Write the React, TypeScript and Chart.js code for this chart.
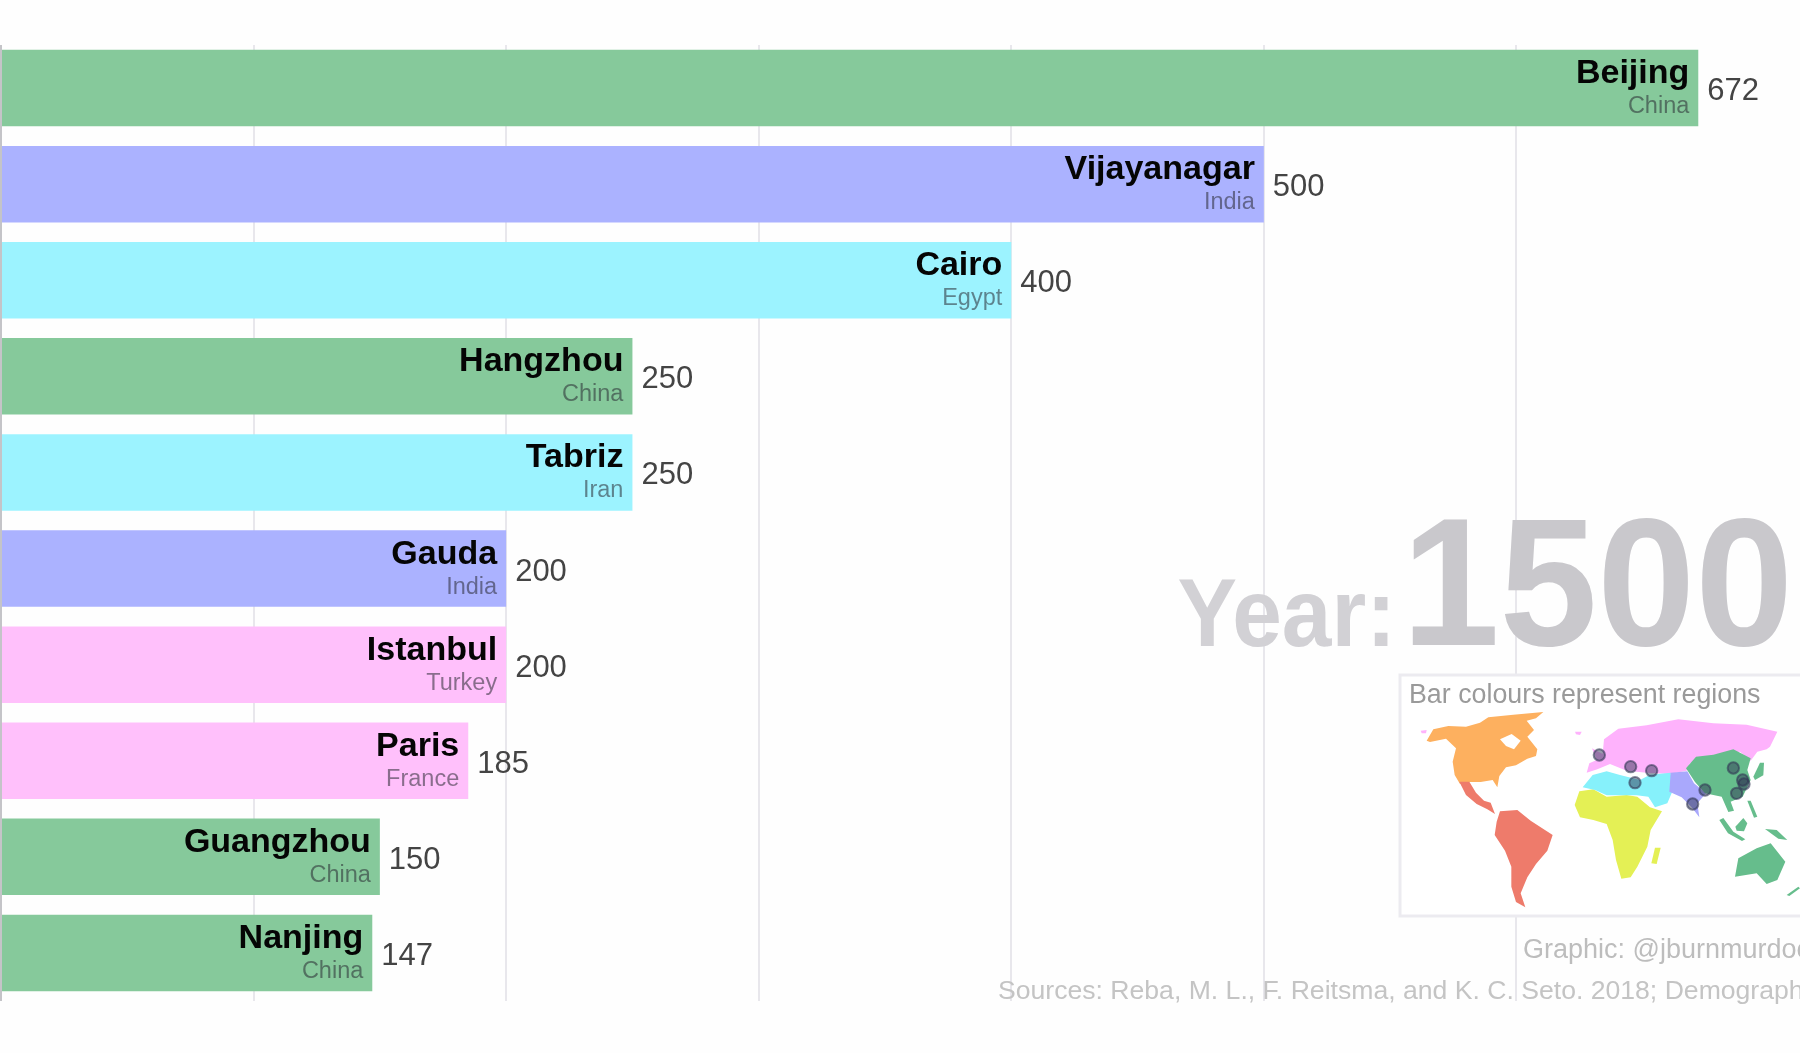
import React, { useEffect, useRef } from "react";
import { Chart, registerables } from "chart.js";

Chart.register(...registerables);

const cities = ["Beijing", "Vijayanagar", "Cairo", "Hangzhou", "Tabriz", "Gauda", "Istanbul", "Paris", "Guangzhou", "Nanjing"];
const countries = ["China", "India", "Egypt", "China", "Iran", "India", "Turkey", "France", "China", "China"];
const populations = [672, 500, 400, 250, 250, 200, 200, 185, 150, 147];
const regions = ["eastAsia", "southAsia", "middleEast", "eastAsia", "middleEast", "southAsia", "europe", "europe", "eastAsia", "eastAsia"];
const year = "1500";
const sources = "Sources: Reba, M. L., F. Reitsma, and K. C. Seto. 2018; Demographia";
const credit = "Graphic: @jburnmurdoch";
const legendTitle = "Bar colours represent regions";

const regionColours: Record<string, string> = {
  eastAsia: "#86c99b",
  southAsia: "#abb2ff",
  middleEast: "#9cf3ff",
  europe: "#ffc0fb",
};

// Inset world map: decorative outlines, in a 3x local space of the panel.
const mapShapes: [string, string][] = [
  ["#fdb05f", "M140,182 L160,148 L205,138 L258,140 L300,128 L325,112 L400,104 L490,96 L468,115 L440,122 L462,150 L442,170 L472,208 L468,228 L442,236 L408,256 L378,262 L358,288 L352,322 L338,300 L302,306 L268,306 L240,312 L224,285 L218,245 L228,205 L198,176 L150,186 Z"],
  ["#ffffff", "M360,178 L395,162 L422,182 L402,208 L378,198 Z"],
  ["#ee7b6b", "M238,305 L268,305 L288,338 L312,362 L332,368 L345,402 L322,388 L290,372 L258,345 Z"],
  ["#ee7b6b", "M360,394 L412,390 L452,422 L518,465 L502,512 L468,552 L442,592 L422,640 L436,682 L408,666 L394,620 L394,560 L375,512 L344,465 L350,425 Z"],
  ["#feb2fc", "M620,278 L628,250 L650,240 L636,205 L668,222 L672,178 L715,146 L800,136 L895,118 L1000,130 L1100,134 L1192,155 L1170,200 L1160,208 L1132,215 L1112,242 L1080,215 L1000,225 L930,250 L920,272 L870,282 L800,278 L740,272 L690,252 L652,268 Z"],
  ["#e4f055", "M598,334 L640,328 L680,350 L740,345 L772,350 L810,382 L846,394 L812,450 L802,500 L772,560 L752,592 L724,596 L708,540 L698,480 L680,432 L640,420 L600,412 L584,375 Z"],
  ["#e4f055", "M825,503 L842,503 L830,552 L814,550 Z"],
  ["#86f1fb", "M608,322 L638,285 L680,274 L720,285 L780,300 L810,284 L872,278 L878,332 L862,370 L825,382 L805,350 L770,346 L740,346 L680,346 L645,330 Z"],
  ["#a9a8fc", "M872,278 L922,274 L942,310 L978,340 L952,370 L958,412 L935,382 L905,352 L868,335 Z"],
  ["#66bd8c", "M918,265 L948,230 L1000,224 L1060,208 L1112,235 L1102,270 L1112,300 L1088,350 L1052,365 L1062,392 L1045,396 L1025,350 L975,340 L945,306 Z"],
  ["#66bd8c", "M1065,590 L1075,535 L1130,505 L1172,490 L1216,545 L1192,600 L1160,612 L1130,580 Z"],
  ["#66bd8c", "M1018,420 L1030,414 L1060,455 L1096,478 L1086,483 L1044,460 Z"],
  ["#66bd8c", "M1066,440 L1090,414 L1102,430 L1092,454 L1070,452 Z"],
  ["#66bd8c", "M1155,447 L1190,450 L1222,480 L1195,476 Z"],
  ["#66bd8c", "M1102,362 L1112,362 L1132,410 L1122,413 Z"],
  ["#66bd8c", "M1140,248 L1152,248 L1150,286 L1125,300 L1120,290 Z"],
  ["#66bd8c", "M1220,645 L1255,620 L1260,625 L1228,648 Z"],
  ["#feb2fc", "M585,155 L605,155 L600,165 L588,163 Z"],
  ["#feb2fc", "M122,152 L140,150 L138,160 L125,160 Z"],
];
const mapDots: [number, number][] = [
  [658, 225], [752, 260], [815, 272], [765, 308], [938, 372],
  [975, 330], [1060, 264], [1088, 300], [1092, 312], [1070, 340],
];

const LABEL = '"Liberation Sans", Arial, sans-serif';

const gridTopMask = {
  id: "gridTopMask",
  beforeDatasetsDraw(chart: any) {
    const { ctx } = chart;
    ctx.save();
    ctx.fillStyle = "#fefefe";
    ctx.fillRect(0, 0, 1800, 45);
    ctx.restore();
  },
};

const overlay = {
  id: "overlay",
  afterDatasetsDraw(chart: any) {
    const { ctx } = chart;
    const bars = chart.getDatasetMeta(0).data;
    ctx.save();
    ctx.textBaseline = "alphabetic";
    bars.forEach((bar: any, i: number) => {
      ctx.textAlign = "right";
      ctx.fillStyle = "#050505";
      ctx.font = `bold 34px ${LABEL}`;
      ctx.fillText(cities[i], bar.x - 9, bar.y - 5);
      ctx.fillStyle = "rgba(40,40,50,0.55)";
      ctx.font = `23.5px ${LABEL}`;
      ctx.fillText(countries[i], bar.x - 9, bar.y + 25);
      ctx.textAlign = "left";
      ctx.fillStyle = "#444444";
      ctx.font = `31px ${LABEL}`;
      ctx.fillText(String(populations[i]), bar.x + 9, bar.y + 12);
    });

    // Year read-out
    ctx.fillStyle = "#c9c8cc";
    ctx.save();
    ctx.translate(1793, 645);
    ctx.scale(0.956, 0.985);
    ctx.textAlign = "right";
    ctx.font = `bold 184px ${LABEL}`;
    ctx.fillText(year, 0, 0);
    ctx.restore();
    ctx.fillStyle = "#d2d1d5";
    ctx.save();
    ctx.translate(1396, 646);
    ctx.scale(0.93, 1);
    ctx.textAlign = "right";
    ctx.font = `bold 96px ${LABEL}`;
    ctx.fillText("Year:", 0, 0);
    ctx.restore();

    // Legend panel
    ctx.fillStyle = "#ffffff";
    ctx.fillRect(1400, 675, 420, 241);
    ctx.strokeStyle = "#ecebf0";
    ctx.lineWidth = 3;
    ctx.strokeRect(1400, 675, 420, 241);
    ctx.textAlign = "left";
    ctx.fillStyle = "#9a9a9a";
    ctx.font = `26.8px ${LABEL}`;
    ctx.fillText(legendTitle, 1409, 703);

    ctx.save();
    ctx.translate(1380, 680);
    ctx.scale(1 / 3, 1 / 3);
    ctx.filter = "blur(0.5px)";
    mapShapes.forEach(([colour, d]) => {
      ctx.fillStyle = colour;
      ctx.fill(new Path2D(d));
    });
    ctx.fillStyle = "rgba(50,55,85,0.5)";
    ctx.strokeStyle = "rgba(50,55,85,0.6)";
    ctx.lineWidth = 6;
    mapDots.forEach(([x, y]) => {
      ctx.beginPath();
      ctx.arc(x, y, 17, 0, Math.PI * 2);
      ctx.fill();
      ctx.stroke();
    });
    ctx.restore();

    // Credits
    ctx.fillStyle = "#bdbdbd";
    ctx.font = `27px ${LABEL}`;
    ctx.fillText(credit, 1523, 958);
    ctx.fillStyle = "#c4c4c4";
    ctx.font = `26.6px ${LABEL}`;
    ctx.fillText(sources, 998, 999);
    ctx.restore();
  },
};

export default function App() {
  const ref = useRef<HTMLCanvasElement>(null);
  useEffect(() => {
    const chart = new Chart(ref.current!, {
      type: "bar",
      data: {
        labels: cities,
        datasets: [
          {
            data: populations,
            backgroundColor: regions.map((r) => regionColours[r]),
            borderWidth: 0,
            barPercentage: 0.796,
            categoryPercentage: 1,
          },
        ],
      },
      options: {
        indexAxis: "y",
        responsive: false,
        animation: false,
        layout: { padding: { top: 40, bottom: 52, left: 1, right: 31 } },
        plugins: { legend: { display: false }, tooltip: { enabled: false } },
        scales: {
          x: {
            min: 0,
            max: 700,
            ticks: { stepSize: 100, display: false },
            border: { display: false },
            grid: {
              drawTicks: false,
              lineWidth: 2,
              color: (c: any) =>
                c.tick && c.tick.value >= 700 ? "rgba(0,0,0,0)" : c.tick && c.tick.value === 0 ? "#c4c4c8" : "#e8e7ec",
            },
          },
          y: {
            ticks: { display: false },
            border: { display: false },
            grid: { display: false, drawTicks: false },
          },
        },
      },
      plugins: [gridTopMask, overlay],
    } as any);
    return () => chart.destroy();
  }, []);
  return (
    <canvas
      ref={ref}
      width={1800}
      height={1053}
      style={{ position: "absolute", left: 0, top: 0, width: 1800, height: 1053, background: "#fefefe", filter: "blur(0.5px)" }}
    />
  );
}
